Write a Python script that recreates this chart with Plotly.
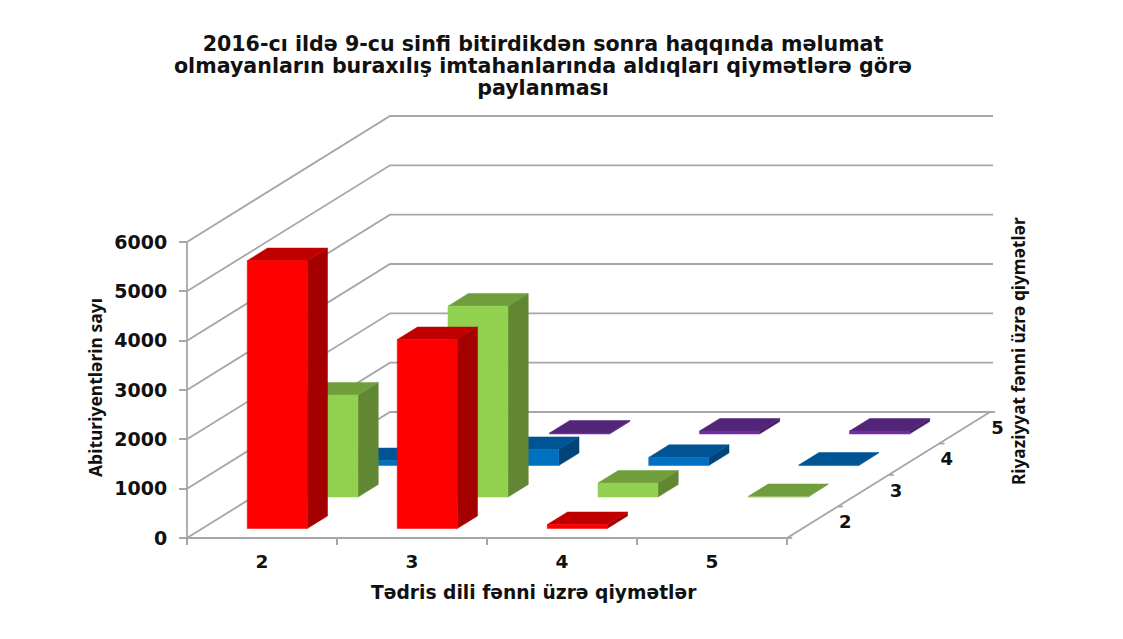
import plotly.graph_objects as go

# Grades on the two floor axes
language_grades = ["2", "3", "4", "5"]
math_grades = ["2", "3", "4", "5"]
count_ticks = [0, 1000, 2000, 3000, 4000, 5000, 6000]

# Number of students, one list per math grade (rows from front to back)
math_2 = [5430, 3830, 80, 0]
math_3 = [2068, 3870, 284, 10]
math_4 = [100, 325, 165, 10]
math_5 = [20, 20, 60, 60]

rows = [math_2, math_3, math_4, math_5]
# front, top and side colour of each row
row_colors = [
    ("#FF0000", "#C00000", "#A40000"),
    ("#92D050", "#709E3C", "#628734"),
    ("#0070C0", "#005494", "#00447A"),
    ("#7030A0", "#532578", "#46206A"),
]

# The page keeps an 8px body margin, so the figure starts 8px in
PAGE_MARGIN = 8
W, H = 1123 - PAGE_MARGIN, 639 - PAGE_MARGIN
X0_PX, Y0_PX = 187 - PAGE_MARGIN, 538 - PAGE_MARGIN
PX_PER_CAT = 150
PX_PER_VALUE = 296 / 6000

# Oblique projection: one depth step moves right and up
DEPTH_DX = (203 / 4) / PX_PER_CAT
DEPTH_DY = (126 / 4) / PX_PER_VALUE
BAR_W = 0.4
BAR_D = 0.4
GRID = "#A6A6A6"
TEXT = "#111111"


def paper_x(px):
    return (px - PAGE_MARGIN) / W


def paper_y(px):
    return 1 - (px - PAGE_MARGIN) / H


def project(cat, depth, value):
    return cat + depth * DEPTH_DX, value + depth * DEPTH_DY


def polyline(points):
    xs, ys = [], []
    for cat, depth, value in points:
        x, y = project(cat, depth, value)
        xs.append(x)
        ys.append(y)
    return xs, ys


def add_lines(fig, segments, width=1.8):
    xs, ys = [], []
    for seg in segments:
        sx, sy = polyline(seg)
        xs += sx + [None]
        ys += sy + [None]
    fig.add_trace(go.Scatter(x=xs, y=ys, mode="lines", line=dict(color=GRID, width=width),
                             hoverinfo="skip", showlegend=False))


def add_face(fig, points, color):
    xs, ys = polyline(points)
    fig.add_trace(go.Scatter(x=xs + xs[:1], y=ys + ys[:1], mode="lines", fill="toself",
                             fillcolor=color, line=dict(color=color, width=0.5),
                             hoverinfo="skip", showlegend=False))


fig = go.Figure()

# Walls and floor
n_cat = len(language_grades)
n_depth = len(math_grades)
walls = [[(0, 0, v), (0, n_depth, v), (n_cat + 0.02, n_depth, v)] for v in count_ticks]
walls.append([(0, 0, 0), (0, 0, count_ticks[-1])])
walls.append([(0, 0, 0), (n_cat, 0, 0), (n_cat, n_depth, 0)])
walls += [[(n_cat, d, 0), (n_cat + 0.035, d, 0)] for d in range(n_depth + 1)]
add_lines(fig, walls)

# Bars, back row first so the front rows cover them
for d in reversed(range(n_depth)):
    front, top, side = row_colors[d]
    for c, value in enumerate(rows[d]):
        if value <= 0:
            continue
        x0 = c + (1 - BAR_W) / 2
        x1 = x0 + BAR_W
        d0 = d + (1 - BAR_D) / 2
        d1 = d0 + BAR_D
        add_face(fig, [(x1, d0, 0), (x1, d1, 0), (x1, d1, value), (x1, d0, value)], side)
        add_face(fig, [(x0, d0, value), (x1, d0, value), (x1, d1, value), (x0, d1, value)], top)
        add_face(fig, [(x0, d0, 0), (x1, d0, 0), (x1, d0, value), (x0, d0, value)], front)

# Depth axis labels, just right of the floor edge
label_xs, label_ys = polyline([(n_cat + 0.22, d + 0.5, -30) for d in range(n_depth)])
fig.add_trace(go.Scatter(x=label_xs, y=label_ys, mode="text", text=math_grades,
                         textfont=dict(family="DejaVu Sans", size=18, color=TEXT, weight="bold"),
                         hoverinfo="skip", showlegend=False))

title_lines = [
    "2016-cı ildə 9-cu sinfi bitirdikdən sonra haqqında məlumat",
    "olmayanların buraxılış imtahanlarında aldıqları qiymətlərə görə",
    "paylanması",
]

fig.update_layout(
    width=W,
    height=H,
    margin=dict(l=0, r=0, t=0, b=0),
    paper_bgcolor="white",
    plot_bgcolor="white",
    showlegend=False,
    title=dict(
        # the outer size sets the line spacing, the span the letter size
        text="<br>".join(f'<span style="font-size:20.6px">{line}</span>' for line in title_lines),
        x=paper_x(543),
        xanchor="center",
        y=paper_y(51),
        yanchor="top",
        font=dict(family="DejaVu Sans", size=17, color=TEXT, weight="bold"),
    ),
    xaxis=dict(
        range=[-X0_PX / PX_PER_CAT, (W - X0_PX) / PX_PER_CAT],
        anchor="free",
        position=(H - Y0_PX) / H,
        tickvals=[i + 0.5 for i in range(n_cat)],
        ticktext=language_grades,
        ticks="",
        ticklabelstandoff=10,
        tickfont=dict(family="DejaVu Sans", size=18.5, color=TEXT, weight="bold"),
        showgrid=False,
        zeroline=False,
        showline=False,
        minor=dict(tickvals=list(range(n_cat + 1)), ticks="outside", ticklen=6, tickwidth=1.8,
                   tickcolor=GRID, showgrid=False),
    ),
    yaxis=dict(
        range=[-(H - Y0_PX) / PX_PER_VALUE, Y0_PX / PX_PER_VALUE],
        anchor="free",
        position=X0_PX / W,
        tickvals=count_ticks,
        ticks="outside",
        ticklen=8,
        tickwidth=1.8,
        tickcolor=GRID,
        ticklabelstandoff=8,
        tickfont=dict(family="DejaVu Sans", size=19, color=TEXT, weight="bold"),
        showgrid=False,
        zeroline=False,
        showline=False,
    ),
    annotations=[
        dict(text="Tədris dili fənni üzrə qiymətlər", x=paper_x(534), y=paper_y(592), xref="paper", yref="paper",
             xanchor="center", yanchor="middle", showarrow=False,
             font=dict(family="DejaVu Sans", size=18.7, color=TEXT, weight="bold")),
        dict(text="Abituriyentlərin sayı", x=paper_x(95), y=paper_y(388), xref="paper", yref="paper", textangle=-90,
             xanchor="center", yanchor="middle", showarrow=False,
             font=dict(family="Noto Sans", size=17.5, color=TEXT, weight="bold")),
        dict(text="Riyaziyyat fənni üzrə qiymətlər", x=paper_x(1018), y=paper_y(351), xref="paper", yref="paper",
             textangle=-90, xanchor="center", yanchor="middle", showarrow=False,
             font=dict(family="Noto Sans", size=17.3, color=TEXT, weight="bold")),
    ],
)

fig.write_html("out.html")
